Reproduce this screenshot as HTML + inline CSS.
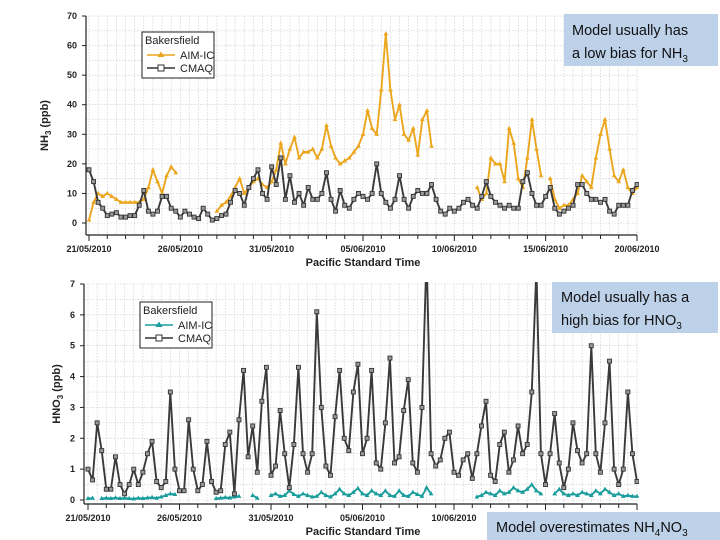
<!DOCTYPE html>
<html><head><meta charset="utf-8">
<style>
html,body{margin:0;padding:0;background:#fff;}
svg{display:block;font-family:"Liberation Sans",Arial,sans-serif;}
.tick{font-size:9px;font-weight:bold;fill:#222;}
.ttl{font-size:11px;font-weight:bold;fill:#222;}
.note{font-family:"Liberation Sans",sans-serif;font-size:14.5px;fill:#111;}
</style></head>
<body>
<svg id="chart" width="720" height="540" viewBox="0 0 720 540">
  <g id="top"></g>
  <g id="bot"></g>

  <g>
    <rect x="564" y="14" width="154" height="52" fill="#bdd1e9"/>
    <text class="note" x="572" y="35">Model usually has</text>
    <text class="note" x="572" y="58">a low bias for NH<tspan font-size="10" dy="4">3</tspan></text>
  </g>
  <g>
    <rect x="552" y="282" width="166" height="51" fill="#bdd1e9"/>
    <text class="note" x="561" y="302">Model usually has a</text>
    <text class="note" x="561" y="325">high bias for HNO<tspan font-size="10" dy="4">3</tspan></text>
  </g>
  <g>
    <rect x="487" y="512" width="233" height="28" fill="#bdd1e9"/>
    <text class="note" x="496" y="532">Model overestimates NH<tspan font-size="10" dy="4">4</tspan><tspan dy="-4">NO</tspan><tspan font-size="10" dy="4">3</tspan></text>
  </g>
</svg>
<script>
// ---- data (index i => day i/4 from 21/05/2010 00:00 PST) ----
const dateLabels = ["21/05/2010","26/05/2010","31/05/2010","05/06/2010","10/06/2010","15/06/2010","20/06/2010"];
const nh3Ticks = [0,10,20,30,40,50,60,70];
const hno3Ticks = [0,1,2,3,4,5,6,7];
const nh3Obs = [1,7,10,9,10,9,8,7,7,7,7,7,8,12,18,14,10,16,19,17,null,null,null,null,null,null,null,null,4,6,7,9,12,15,10,12,14,15,13,12,14,18,27,20,25,29,22,24,24,25,22,25,33,26,22,20,21,22,24,26,30,38,32,30,45,64,45,35,40,30,28,32,23,35,38,26,null,null,null,null,null,null,null,null,null,12,8,10,22,20,20,14,32,27,15,12,22,35,25,16,null,15,8,5,6,6,8,10,16,14,12,22,30,35,25,16,14,18,12,10,12];
const nh3Mod = [18,14,7,5,2.5,3,3.5,2,2,2.5,2.5,6,11,4,3,4,9,9,5,4,2,4,3,2,1.5,5,3,1,1.5,2.5,3,7,11,10,6,12,15,18,10,8,19,13,22,8,16,7,10,6,12,8,8,10,17,8,4,11,6,5,8,10,9,8,10,20,10,7,5,8,16,8,5,9,11,10,10,13,8,4,3,5,4,5,7,8,6,5,9,14,9,7,6,5,6,5,5,14,17,10,6,6,9,12,5,3,4,5,6,13,13,10,8,8,7,8,4,3,6,6,6,11,13];
const hno3Obs = [0.05,0.06,null,0.05,0.06,0.05,0.07,0.05,0.06,0.05,0.04,0.06,0.05,0.07,0.08,0.06,0.1,0.15,0.2,0.18,null,null,null,null,null,null,null,null,0.05,0.06,0.08,0.07,0.1,0.12,null,null,0.15,0.06,null,null,0.15,0.2,0.12,0.15,0.3,0.18,0.12,0.2,0.15,0.1,0.12,0.25,0.15,0.1,0.2,0.35,0.2,0.15,0.25,0.38,0.2,0.15,0.3,0.2,0.15,0.3,0.15,0.12,0.3,0.15,0.12,0.25,0.18,0.12,0.4,0.2,null,null,null,null,null,null,null,null,null,0.1,0.15,0.25,0.2,0.15,0.3,0.2,0.25,0.4,0.3,0.25,0.35,0.5,0.3,0.2,null,null,0.2,0.35,0.2,0.15,0.2,0.15,0.25,0.2,0.15,0.3,0.2,0.35,0.25,0.15,0.2,0.12,0.15,0.12,0.12];
const hno3Mod = [1.0,0.65,2.5,1.6,0.35,0.35,1.4,0.5,0.2,0.5,1.0,0.5,0.9,1.5,1.9,0.6,0.4,0.6,3.5,1.0,0.3,0.3,2.6,1.0,0.3,0.5,1.9,0.6,0.25,0.3,1.8,2.2,0.2,2.6,4.2,1.4,2.4,0.9,3.2,4.3,0.8,1.1,2.9,1.5,0.4,1.8,4.3,1.5,0.9,1.5,6.1,3.0,1.1,0.8,2.7,4.2,2.0,1.6,3.5,4.4,1.5,2.0,4.2,1.2,1.0,2.5,4.6,1.2,1.4,2.9,3.9,1.2,0.9,3.0,8.0,1.5,1.1,1.3,2.0,2.2,0.9,0.8,1.3,1.5,0.7,1.5,2.4,3.2,0.8,0.6,1.8,2.2,0.9,1.3,2.4,1.5,1.8,3.5,7.5,1.5,0.5,1.5,2.8,1.2,0.4,1.0,2.5,1.6,1.2,1.5,5.0,1.5,0.9,2.5,4.5,1.0,0.5,1.0,3.5,1.5,0.6];

const NS='http://www.w3.org/2000/svg';
function mk(parent,tag,attrs){const e=document.createElementNS(NS,tag);for(const k in attrs)e.setAttribute(k,attrs[k]);parent.appendChild(e);return e;}

function panel(g,cfg){
  const xS=d=>cfg.x0+d*(cfg.x1-cfg.x0)/30;
  const yS=v=>cfg.y0-v*(cfg.y0-cfg.yTop)/cfg.ymax;
  const cp=mk(g,'clipPath',{id:cfg.id+'clip'});
  mk(cp,'rect',{x:cfg.axX,y:cfg.yTop-2,width:cfg.x1-cfg.axX+2,height:cfg.axY-cfg.yTop+2});
  const grid=mk(g,'g',{});
  
  
  for(let d=0;d<=60;d++){const x=xS(d/2);mk(grid,'line',{x1:x,x2:x,y1:cfg.yTop,y2:cfg.axY,stroke:'#c8c8d0','stroke-width':0.6,'stroke-dasharray':'1.5,1.5'});}
  for(let v=0;v<=cfg.ymax;v+=cfg.gstep){const y=yS(v);mk(grid,'line',{x1:cfg.axX,x2:cfg.x1,y1:y,y2:y,stroke:'#c8c8d0','stroke-width':0.6,'stroke-dasharray':'1.5,1.5'});}
  const ax=mk(g,'g',{});
  
  
  mk(ax,'line',{x1:cfg.axX,x2:cfg.axX,y1:cfg.yTop,y2:cfg.axY,stroke:'#222','stroke-width':1.2});
  mk(ax,'line',{x1:cfg.axX,x2:cfg.x1,y1:cfg.axY,y2:cfg.axY,stroke:'#222','stroke-width':1.2});
  cfg.ticks.forEach(v=>{const y=yS(v);
    mk(ax,'line',{x1:cfg.axX-4,x2:cfg.axX,y1:y,y2:y,stroke:'#222','stroke-width':1});
    const t=mk(ax,'text',{x:cfg.axX-9,y:y+3,'text-anchor':'end',class:'tick'});t.textContent=v;
    
    
  });
  for(let d=0;d<=30;d++){const x=xS(d);mk(ax,'line',{x1:x,x2:x,y1:cfg.axY,y2:cfg.axY+(d%5===0?6:4),stroke:'#222','stroke-width':1});}
  dateLabels.forEach((s,k)=>{const t=mk(ax,'text',{x:xS(k*5),y:cfg.axY+17,'text-anchor':'middle',class:'tick'});t.textContent=s;
    
    
  });
  const xt=mk(ax,'text',{x:363,y:cfg.axY+31,'text-anchor':'middle',class:'ttl'});xt.textContent='Pacific Standard Time';
  
  
  const yt=mk(ax,'text',{x:0,y:0,'text-anchor':'middle',class:'ttl',transform:`translate(${cfg.ytX},${(cfg.yTop+cfg.axY)/2}) rotate(-90)`});
  yt.innerHTML=cfg.ytitle;
  
  
  const sg=mk(g,'g',{'clip-path':`url(#${cfg.id}clip)`});
  function series(vals,color,mcolor,marker,name){
    const s=mk(sg,'g',{});
    
    
    let d='',pen=false;
    vals.forEach((v,i)=>{if(v===null){pen=false;return;}d+=(pen?'L':'M')+xS(i/4).toFixed(1)+','+yS(v).toFixed(1);pen=true;});
    mk(s,'path',{d:d,fill:'none',stroke:color,'stroke-width':1.9,'stroke-linejoin':'round'});
    vals.forEach((v,i)=>{if(v===null)return;const x=xS(i/4),y=yS(v);
      if(marker==='sq')mk(s,'rect',{x:x-2,y:y-2,width:4,height:4,fill:'#999',stroke:mcolor,'stroke-width':0.9});
      else mk(s,'path',{d:`M${x},${y-2.6}L${x+2.4},${y+1.6}L${x-2.4},${y+1.6}Z`,fill:mcolor});
    });
  }
  series(cfg.obs,cfg.obsColor,cfg.obsColor,'tri',cfg.id+'-aim-ic-series');
  series(cfg.mod,'#3a3a3a','#333','sq',cfg.id+'-cmaq-series');
  const lg=mk(g,'g',{});
  
  
  const L=cfg.leg;
  mk(lg,'rect',{x:L[0],y:L[1],width:72,height:46,fill:'#fff',stroke:'#222','stroke-width':1});
  let t=mk(lg,'text',{x:L[0]+3,y:L[1]+12,style:'font-size:11px;fill:#222'});t.textContent='Bakersfield';
  mk(lg,'line',{x1:L[0]+5,x2:L[0]+33,y1:L[1]+23,y2:L[1]+23,stroke:cfg.obsColor,'stroke-width':1.6});
  mk(lg,'path',{d:`M${L[0]+19},${L[1]+19.5}L${L[0]+22.5},${L[1]+25}L${L[0]+15.5},${L[1]+25}Z`,fill:cfg.obsColor});
  t=mk(lg,'text',{x:L[0]+38,y:L[1]+27,style:'font-size:11px;fill:#222'});t.textContent='AIM-IC';
  mk(lg,'line',{x1:L[0]+5,x2:L[0]+33,y1:L[1]+36,y2:L[1]+36,stroke:'#333','stroke-width':1.6});
  mk(lg,'rect',{x:L[0]+16,y:L[1]+33,width:6,height:6,fill:'#fff',stroke:'#333','stroke-width':1});
  t=mk(lg,'text',{x:L[0]+38,y:L[1]+40,style:'font-size:11px;fill:#222'});t.textContent='CMAQ';
}

panel(document.getElementById('top'),{id:'nh3',x0:89,x1:637,axX:86,y0:223,yTop:16,axY:235,ymax:70,gstep:5,
  ticks:nh3Ticks,obs:nh3Obs,mod:nh3Mod,obsColor:'#eba61e',leg:[142,32],ytX:48,
  ytitle:'NH<tspan font-size="8" dy="3">3</tspan><tspan dy="-3"> (ppb)</tspan>'});
panel(document.getElementById('bot'),{id:'hno3',x0:88,x1:637,axX:84,y0:500,yTop:284,axY:504,ymax:7,gstep:0.5,
  ticks:hno3Ticks,obs:hno3Obs,mod:hno3Mod,obsColor:'#1a9d9d',leg:[140,302],ytX:60,
  ytitle:'HNO<tspan font-size="8" dy="3">3</tspan><tspan dy="-3"> (ppb)</tspan>'});
</script>
</body></html>
